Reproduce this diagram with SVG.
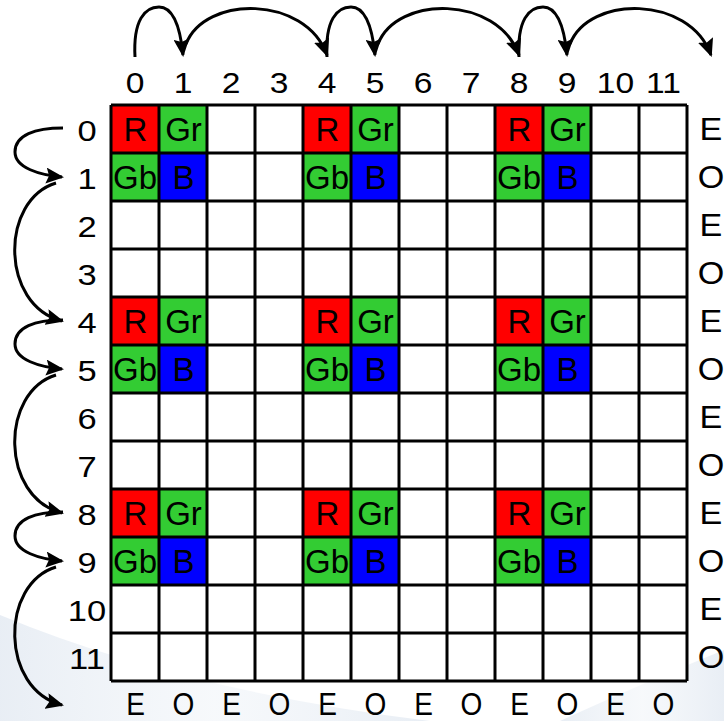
<svg xmlns="http://www.w3.org/2000/svg" width="724" height="721" viewBox="0 0 724 721">
<defs>
<style>
text{font-family:"Liberation Sans",Arial,sans-serif;fill:#000;text-anchor:middle}
.lbl{font-size:30px}
.par{font-size:30.5px}
.ct{font-size:33px}
.cell{stroke:#000;stroke-width:3}
.arc{fill:none;stroke:#000;stroke-width:3;marker-end:url(#ah)}
.r{fill:#FF0000}.g{fill:#33CC33}.b{fill:#0000FF}
</style>
<marker id="ah" markerWidth="20" markerHeight="16" refX="16" refY="8" orient="auto" markerUnits="userSpaceOnUse">
<path d="M0,0 L18,8 L0,16 L3,8 Z" fill="#000"/>
</marker>
<linearGradient id="sw" x1="0" y1="0" x2="1" y2="0">
<stop offset="0" stop-color="#c9d6e6" stop-opacity="0.7"/>
<stop offset="0.5" stop-color="#dde6f0" stop-opacity="0.4"/>
<stop offset="1" stop-color="#c9d6e6" stop-opacity="0.7"/>
</linearGradient>
</defs>
<rect width="724" height="721" fill="#fff"/>
<g id="background">
<path d="M0,615 Q180,690 430,721 L0,721 Z" fill="url(#sw)" opacity="0.6"/>
<path d="M560,721 Q650,680 724,650 L724,721 Z" fill="url(#sw)" opacity="0.6"/>
</g>
<g id="grid">
<rect x="111" y="105" width="576" height="576" fill="#fff"/>
<g id="cells-colored">
<rect class="r" x="111" y="105" width="48" height="48"/><rect class="g" x="159" y="105" width="48" height="48"/><rect class="g" x="111" y="153" width="48" height="48"/><rect class="b" x="159" y="153" width="48" height="48"/>
<rect class="r" x="303" y="105" width="48" height="48"/><rect class="g" x="351" y="105" width="48" height="48"/><rect class="g" x="303" y="153" width="48" height="48"/><rect class="b" x="351" y="153" width="48" height="48"/>
<rect class="r" x="495" y="105" width="48" height="48"/><rect class="g" x="543" y="105" width="48" height="48"/><rect class="g" x="495" y="153" width="48" height="48"/><rect class="b" x="543" y="153" width="48" height="48"/>
<rect class="r" x="111" y="297" width="48" height="48"/><rect class="g" x="159" y="297" width="48" height="48"/><rect class="g" x="111" y="345" width="48" height="48"/><rect class="b" x="159" y="345" width="48" height="48"/>
<rect class="r" x="303" y="297" width="48" height="48"/><rect class="g" x="351" y="297" width="48" height="48"/><rect class="g" x="303" y="345" width="48" height="48"/><rect class="b" x="351" y="345" width="48" height="48"/>
<rect class="r" x="495" y="297" width="48" height="48"/><rect class="g" x="543" y="297" width="48" height="48"/><rect class="g" x="495" y="345" width="48" height="48"/><rect class="b" x="543" y="345" width="48" height="48"/>
<rect class="r" x="111" y="489" width="48" height="48"/><rect class="g" x="159" y="489" width="48" height="48"/><rect class="g" x="111" y="537" width="48" height="48"/><rect class="b" x="159" y="537" width="48" height="48"/>
<rect class="r" x="303" y="489" width="48" height="48"/><rect class="g" x="351" y="489" width="48" height="48"/><rect class="g" x="303" y="537" width="48" height="48"/><rect class="b" x="351" y="537" width="48" height="48"/>
<rect class="r" x="495" y="489" width="48" height="48"/><rect class="g" x="543" y="489" width="48" height="48"/><rect class="g" x="495" y="537" width="48" height="48"/><rect class="b" x="543" y="537" width="48" height="48"/>
</g>
<path class="cell" fill="none" d="M111,105V681M159,105V681M207,105V681M255,105V681M303,105V681M351,105V681M399,105V681M447,105V681M495,105V681M543,105V681M591,105V681M639,105V681M687,105V681M111,105H687M111,153H687M111,201H687M111,249H687M111,297H687M111,345H687M111,393H687M111,441H687M111,489H687M111,537H687M111,585H687M111,633H687M111,681H687"/>
<g id="cell-text" class="ct">
<text x="135.5" y="141">R</text><text x="183.5" y="141">Gr</text><text x="135" y="189">Gb</text><text x="183.5" y="189">B</text>
<text x="327.5" y="141">R</text><text x="375.5" y="141">Gr</text><text x="327" y="189">Gb</text><text x="375.5" y="189">B</text>
<text x="519.5" y="141">R</text><text x="567.5" y="141">Gr</text><text x="519" y="189">Gb</text><text x="567.5" y="189">B</text>
<text x="135.5" y="333">R</text><text x="183.5" y="333">Gr</text><text x="135" y="381">Gb</text><text x="183.5" y="381">B</text>
<text x="327.5" y="333">R</text><text x="375.5" y="333">Gr</text><text x="327" y="381">Gb</text><text x="375.5" y="381">B</text>
<text x="519.5" y="333">R</text><text x="567.5" y="333">Gr</text><text x="519" y="381">Gb</text><text x="567.5" y="381">B</text>
<text x="135.5" y="525">R</text><text x="183.5" y="525">Gr</text><text x="135" y="573">Gb</text><text x="183.5" y="573">B</text>
<text x="327.5" y="525">R</text><text x="375.5" y="525">Gr</text><text x="327" y="573">Gb</text><text x="375.5" y="573">B</text>
<text x="519.5" y="525">R</text><text x="567.5" y="525">Gr</text><text x="519" y="573">Gb</text><text x="567.5" y="573">B</text>
</g>
</g>
<g id="column-labels" class="lbl">
<text transform="translate(135,93) scale(1.12,1)">0</text><text transform="translate(183,93) scale(1.12,1)">1</text><text transform="translate(231,93) scale(1.12,1)">2</text><text transform="translate(279,93) scale(1.12,1)">3</text><text transform="translate(327,93) scale(1.12,1)">4</text><text transform="translate(375,93) scale(1.12,1)">5</text><text transform="translate(423,93) scale(1.12,1)">6</text><text transform="translate(471,93) scale(1.12,1)">7</text><text transform="translate(519,93) scale(1.12,1)">8</text><text transform="translate(567,93) scale(1.12,1)">9</text><text transform="translate(615.5,93) scale(1.12,1)">10</text><text transform="translate(663.5,93) scale(1.12,1)">11</text>
</g>
<g id="row-labels" class="lbl">
<text transform="translate(87,141) scale(1.15,1)">0</text><text transform="translate(87,189) scale(1.15,1)">1</text><text transform="translate(87,237) scale(1.15,1)">2</text><text transform="translate(87,285) scale(1.15,1)">3</text><text transform="translate(87,333) scale(1.15,1)">4</text><text transform="translate(87,381) scale(1.15,1)">5</text><text transform="translate(87,429) scale(1.15,1)">6</text><text transform="translate(87,477) scale(1.15,1)">7</text><text transform="translate(87,525) scale(1.15,1)">8</text><text transform="translate(87,573) scale(1.15,1)">9</text><text transform="translate(87,621) scale(1.15,1)">10</text><text transform="translate(87,669) scale(1.15,1)">11</text>
</g>
<g id="row-parity" class="par">
<text transform="translate(711,140) scale(1.12,1)">E</text><text transform="translate(711,188) scale(1.12,1)">O</text><text transform="translate(711,236) scale(1.12,1)">E</text><text transform="translate(711,284) scale(1.12,1)">O</text><text transform="translate(711,332) scale(1.12,1)">E</text><text transform="translate(711,380) scale(1.12,1)">O</text><text transform="translate(711,428) scale(1.12,1)">E</text><text transform="translate(711,476) scale(1.12,1)">O</text><text transform="translate(711,524) scale(1.12,1)">E</text><text transform="translate(711,572) scale(1.12,1)">O</text><text transform="translate(711,620) scale(1.12,1)">E</text><text transform="translate(711,668) scale(1.12,1)">O</text>
</g>
<g id="column-parity" class="par">
<text transform="translate(135.5,715) scale(0.92,1)">E</text><text transform="translate(183.5,715) scale(0.92,1)">O</text><text transform="translate(231.5,715) scale(0.92,1)">E</text><text transform="translate(279.5,715) scale(0.92,1)">O</text><text transform="translate(327.5,715) scale(0.92,1)">E</text><text transform="translate(375.5,715) scale(0.92,1)">O</text><text transform="translate(423.5,715) scale(0.92,1)">E</text><text transform="translate(471.5,715) scale(0.92,1)">O</text><text transform="translate(519.5,715) scale(0.92,1)">E</text><text transform="translate(567.5,715) scale(0.92,1)">O</text><text transform="translate(615.5,715) scale(0.92,1)">E</text><text transform="translate(663.5,715) scale(0.92,1)">O</text>
</g>
<g id="connectors">
<path class="arc" d="M135,57 C133,20 145,7 159,7 C172,7 180,25 183,55"/>
<path class="arc" d="M186,44 C205,-5 305,-5 327,55"/>
<path class="arc" d="M327,57 C325,20 337,7 351,7 C364,7 372,25 375,55"/>
<path class="arc" d="M378,44 C397,-5 497,-5 519,55"/>
<path class="arc" d="M519,57 C517,20 529,7 543,7 C556,7 564,25 567,55"/>
<path class="arc" d="M570,44 C589,-5 689,-5 711,55"/>
<path class="arc" d="M63,128 C35,128 15,135 15,152 C15,168 40,175 62,177"/>
<path class="arc" d="M56,183 C0,200 0,305 62,321"/>
<path class="arc" d="M63,320 C35,320 15,327 15,344 C15,360 40,367 62,369"/>
<path class="arc" d="M56,375 C0,392 0,497 62,513"/>
<path class="arc" d="M63,512 C35,512 15,519 15,536 C15,552 40,559 62,561"/>
<path class="arc" d="M56,567 C0,584 0,689 62,705"/>
</g>
</svg>
